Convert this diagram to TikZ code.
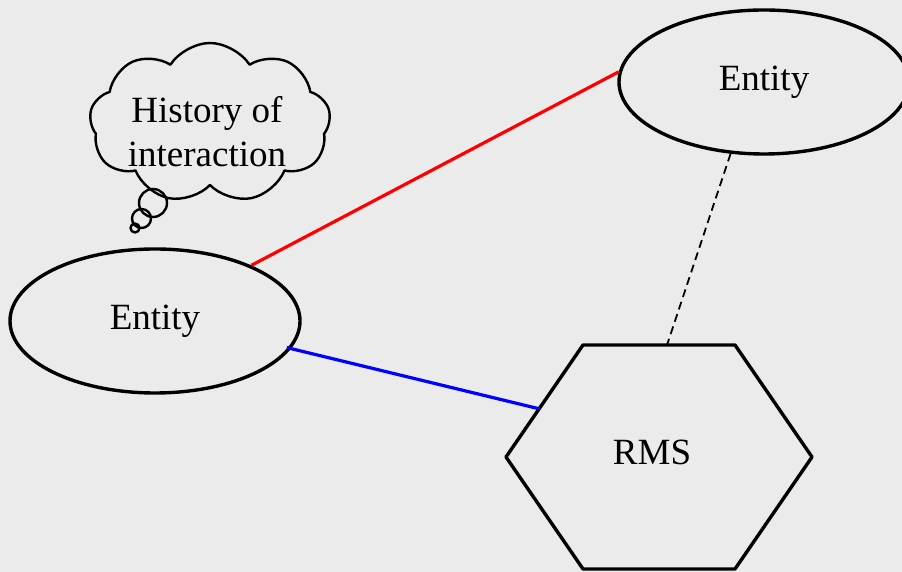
\documentclass[tikz,border=0pt]{standalone}
\usepackage{fontspec}
\setmainfont{Liberation Serif}
\newfontfamily\diagfont{Liberation Serif}
\usetikzlibrary{shapes.geometric,shapes.symbols}
\definecolor{bggray}{RGB}{235,235,235}
\begin{document}
\begin{tikzpicture}[x=1pt,y=1pt,line join=round,
        every node/.style={font=\diagfont\fontsize{37}{44}\selectfont},
        entity/.style={ellipse,draw,line width=3.4pt,minimum width=290pt,minimum height=144pt,inner sep=0pt},
        thought/.style={cloud,draw,line width=2.4pt,cloud puffs=9,cloud puff arc=115,aspect=1.5,minimum width=241pt,minimum height=160pt,inner sep=0pt},
        bubble/.style={circle,draw,line width=2.4pt,inner sep=0pt},
        link/.style={line width=3.2pt}]
            % background and page size
            \fill[bggray] (0,0) rectangle (902,572);
            \useasboundingbox (0,0) rectangle (902,572);

            % draw the entities
            \node[entity] (entityL) at (155,251) {Entity};
            \node[entity] (entityR) at (764,490) {Entity};

            % draw the RMS hexagon
            \coordinate (rmsC) at (659,115);
            \draw[line width=3.4pt] ([shift={(-76,112)}]rmsC) -- ([shift={(76,112)}]rmsC)
                -- ([shift={(153,0)}]rmsC) -- ([shift={(76,-112)}]rmsC)
                -- ([shift={(-76,-112)}]rmsC) -- ([shift={(-153,0)}]rmsC) -- cycle;
            \node (rms) at (652,120) {RMS};
            \coordinate (rmsB) at (540,163);
            \coordinate (rmsD) at (667,227);

            % thought cloud
            \node[thought] (history) at (210,449) {};
            \node[align=center] (historyText) at ([shift={(-3,-9)}]history.center) {History of\\interaction};
            \node[bubble,minimum size=28pt] (bubbleA) at (153,369) {};
            \node[bubble,minimum size=19pt] (bubbleB) at (141.5,353.5) {};
            \node[bubble,minimum size=9pt] (bubbleC) at (135,344) {};

            % links
            \draw[link,red] (entityL.30) -- (entityR.176);
            \draw[link,blue] ([xshift=-5pt]entityL.-11) -- (rmsB);
            \draw[line width=1.8pt,dash pattern=on 8pt off 5pt] (entityR.245) -- (rmsD);
        \end{tikzpicture}
\end{document}
